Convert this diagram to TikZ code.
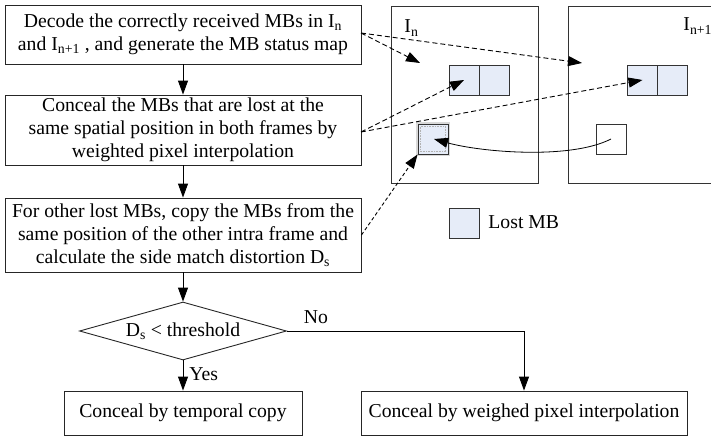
\documentclass[tikz,border=0pt]{standalone}
\usepackage{fontspec}
\setmainfont{Liberation Serif}
\usetikzlibrary{arrows.meta,shapes.geometric}
\definecolor{mbblue}{HTML}{E6ECF8}
\definecolor{edge}{HTML}{333333}
\begin{document}
\begin{tikzpicture}[x=1pt,y=-1pt,line width=0.9pt,
  every node/.style={font=\fontsize{19.7}{23}\selectfont,inner sep=0pt},
  proc/.style={draw=black!85,align=center,minimum width=356pt},
  tipa/.style={-{Triangle[length=14pt,width=10pt]}},
  dasharrow/.style={tipa,dash pattern=on 5pt off 3pt},
  dotarrow/.style={tipa,dash pattern=on 3.5pt off 2.5pt},
  frame/.style={draw=edge,minimum height=177pt},
  mb/.style={draw=edge,fill=mbblue,minimum width=30pt,minimum height=30pt,line width=0.8pt},
  endbox/.style={draw=black!85,minimum height=44pt}
]
\useasboundingbox (0,0) rectangle (711,439);
\begin{scope}
\clip (0,0) rectangle (711,439);
% flowchart boxes
\node[proc,minimum height=59pt] (p1) at (183,34.5)
  {Decode the correctly received MBs in I\textsubscript{n}\\and I\textsubscript{n+1} , and generate the MB status map};
\node[proc,minimum height=70pt] (p2) at (183,130)
  {Conceal the MBs that are lost at the\\same spatial position in both frames by\\weighted pixel interpolation};
\node[proc,minimum height=74pt] (p3) at (183,235)
  {For other lost MBs, copy the MBs from the\\same position of the other intra frame and\\calculate the side match distortion D\textsubscript{s}};
\node[draw=black!85,shape=diamond,aspect=3.57,minimum width=207pt,minimum height=58pt] (dia) at (183,331)
  {D\textsubscript{s} < threshold};
\node[endbox,minimum width=238pt] (r1) at (183,413) {Conceal by temporal copy};
\node[endbox,minimum width=326pt] (r2) at (524,413) {Conceal by weighed pixel interpolation};

\draw[tipa] (p1) -- (p2);
\draw[tipa] (p2) -- (p3);
\draw[tipa] (p3) -- (dia);
\draw[tipa] (dia) -- (r1) node[pos=0.45,right=6pt] {Yes};
\draw[tipa] (dia.east) -| (r2.north);
\node (no) at (316,317) {No};

% frames
\node[frame,minimum width=147pt] (fA) at (464.5,94.5) {};
\node[frame,minimum width=180pt] (fB) at (658,94.5) {};
\node[anchor=west] (lA) at (404,28) {I\textsubscript{n}};
\node[anchor=west] (lB) at (683,26) {I\textsubscript{n+1}};

% MB pairs
\node[mb] (a1) at (464,80) {};
\node[mb] (a2) at (494,80) {};
\node[mb] (b1) at (642.5,80) {};
\node[mb] (b2) at (672,80) {};
% lost MB in I_n
\draw[gray!30,line width=3.5pt] (418,124) rectangle (448,154);
\node[mb,line width=0.9pt] (lost) at (433,139) {};
\draw[gray!60,line width=0.6pt,dash pattern=on 0.8pt off 0.8pt] (420.5,126.5) rectangle (445.5,151.5);
% white square in I_n+1
\node[draw=edge,minimum width=30pt,minimum height=30pt,line width=0.8pt] (w) at (611,139) {};

% connectors
\coordinate (t1) at (420,63);
\coordinate (t2) at (582,63);
\coordinate (s1) at (361,33);
\coordinate (s2) at (361,132);
\draw[dasharrow] (s1) -- (t1);
\draw[dasharrow] (s1) -- (t2);
\draw[dasharrow] (s2) -- (a1.center);
\draw[dasharrow] (s2) -- (b1.center);
\draw[dotarrow] (p3.east) -- (lost.south west);
\draw[tipa,line width=0.8pt] (w.center) .. controls (570,160) and (480,152) .. ([xshift=1pt]lost.center);

% legend
\node[mb] (leg) at (464.5,223) {};
\node[anchor=west] (legt) at (488,222) {Lost MB};
\end{scope}
\end{tikzpicture}
\end{document}
